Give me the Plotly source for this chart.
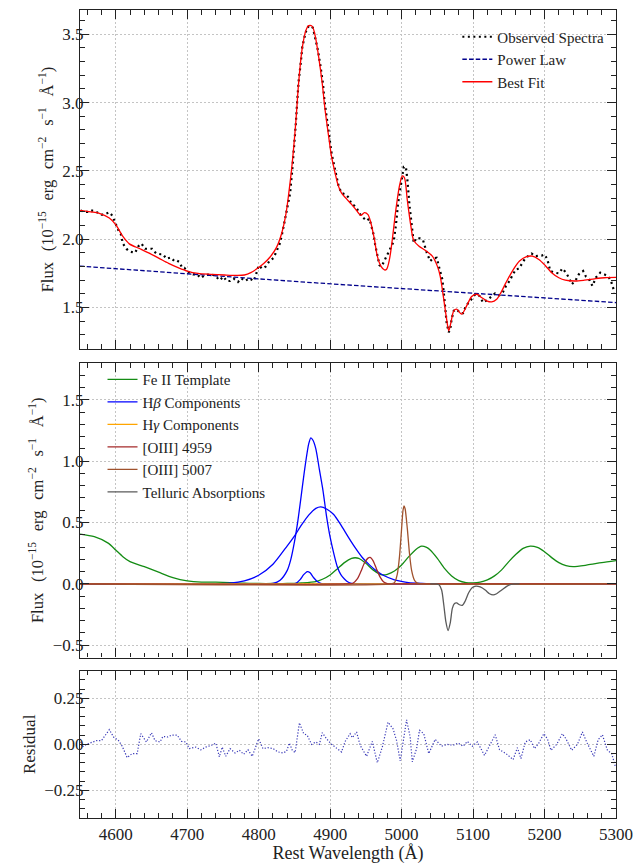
import plotly.graph_objects as go
from plotly.subplots import make_subplots

# ---------------- data ----------------
obs_wave = [4551, 4556, 4561, 4565, 4569, 4573, 4576, 4580, 4583, 4587, 4591, 4594, 4596, 4599, 4602, 4605,
            4607, 4610, 4615, 4618, 4621, 4624, 4627, 4632, 4636, 4641, 4645, 4648, 4651, 4654, 4657, 4663,
            4666, 4671, 4674, 4677, 4682, 4685, 4689, 4693, 4696, 4701, 4705, 4708, 4714, 4719, 4725, 4729,
            4733, 4739, 4745, 4751, 4755, 4760, 4765, 4771, 4776, 4781, 4787, 4793, 4796, 4800, 4805, 4810,
            4815, 4821, 4826, 4830, 4834, 4838, 4841, 4844, 4847, 4850, 4852, 4854, 4856, 4859, 4861, 4865,
            4868, 4871, 4874, 4876, 4879, 4883, 4886, 4890, 4892, 4896, 4899, 4902, 4906, 4909, 4912, 4916,
            4921, 4925, 4930, 4934, 4937, 4940, 4944, 4948, 4951, 4955, 4958, 4961, 4963, 4966, 4969, 4972,
            4976, 4980, 4984, 4989, 4992, 4995, 4999, 5003, 5006, 5008, 5011, 5013, 5015, 5017, 5021, 5026,
            5030, 5035, 5040, 5044, 5049, 5053, 5057, 5059, 5061, 5063, 5066, 5068, 5070, 5073, 5077, 5082,
            5086, 5090, 5096, 5103, 5109, 5114, 5121, 5127, 5131, 5137, 5142, 5146, 5151, 5155, 5160, 5164,
            5168, 5173, 5177, 5182, 5186, 5191, 5196, 5200, 5204, 5208, 5214, 5220, 5225, 5230, 5235, 5238,
            5243, 5248, 5254, 5258, 5263, 5267, 5272, 5278, 5283, 5289, 5293, 5298]
obs_flux = [2.21, 2.20, 2.20, 2.21, 2.21, 2.20, 2.19, 2.18, 2.18, 2.19, 2.197, 2.18, 2.163, 2.124, 2.08, 2.05,
            2.04, 1.968, 1.93, 1.915, 1.908, 1.905, 1.90, 1.95, 1.968, 1.93, 1.93, 1.93, 1.93, 1.91, 1.895, 1.89,
            1.89, 1.857, 1.86, 1.866, 1.84, 1.845, 1.833, 1.79, 1.79, 1.762, 1.75, 1.743, 1.743, 1.716, 1.738, 1.74,
            1.743, 1.735, 1.70, 1.726, 1.694, 1.694, 1.711, 1.687, 1.714, 1.694, 1.714, 1.694, 1.735, 1.808, 1.784, 1.80,
            1.84, 1.864, 1.925, 1.973, 2.07, 2.17, 2.25, 2.337, 2.507, 2.677, 2.847, 3.017, 3.16, 3.296, 3.405, 3.50,
            3.55, 3.563, 3.56, 3.546, 3.478, 3.381, 3.284, 3.138, 3.017, 2.871, 2.726, 2.629, 2.531, 2.459, 2.386, 2.337,
            2.33, 2.31, 2.26, 2.245, 2.228, 2.20, 2.167, 2.15, 2.135, 2.15, 2.095, 2.03, 1.96, 1.87, 1.81, 1.80,
            1.84, 1.888, 1.93, 1.985, 2.10, 2.26, 2.40, 2.53, 2.53, 2.44, 2.25, 2.155, 2.058, 1.973, 2.01, 2.005,
            1.993, 1.905, 1.84, 1.86, 1.864, 1.79, 1.706, 1.609, 1.488, 1.39, 1.318, 1.34, 1.415, 1.476, 1.488, 1.459,
            1.459, 1.512, 1.549, 1.597, 1.585, 1.536, 1.56, 1.585, 1.604, 1.59, 1.614, 1.658, 1.694, 1.735, 1.78, 1.784,
            1.816, 1.86, 1.876, 1.895, 1.876, 1.876, 1.88, 1.888, 1.852, 1.767, 1.755, 1.75, 1.786, 1.755, 1.71, 1.67,
            1.694, 1.743, 1.767, 1.726, 1.70, 1.658, 1.72, 1.755, 1.743, 1.73, 1.694, 1.609]

fit_wave = [4550, 4565, 4577, 4591, 4600, 4610, 4619, 4633, 4646, 4660, 4674, 4688, 4701, 4715, 4733, 4752,
            4770, 4780, 4789, 4798, 4807, 4816, 4825, 4832, 4838, 4842, 4847, 4852, 4856, 4861, 4866, 4870,
            4875, 4879, 4884, 4889, 4893, 4898, 4902, 4907, 4911, 4916, 4923, 4930, 4937, 4943, 4948, 4953,
            4957, 4962, 4966, 4971, 4976, 4979, 4983, 4987, 4992, 4997, 5001, 5004, 5008, 5013, 5017, 5024,
            5034, 5043, 5050, 5054, 5059, 5063, 5066, 5069, 5073, 5077, 5084, 5091, 5098, 5105, 5112, 5119,
            5126, 5133, 5139, 5146, 5155, 5165, 5174, 5183, 5192, 5201, 5210, 5220, 5229, 5243, 5256, 5270,
            5284, 5300]
fit_flux = [2.211, 2.20, 2.19, 2.155, 2.107, 2.02, 1.966, 1.932, 1.90, 1.862, 1.823, 1.79, 1.765, 1.75, 1.743, 1.738,
            1.735, 1.738, 1.755, 1.785, 1.822, 1.87, 1.94, 2.04, 2.18, 2.33, 2.56, 2.86, 3.15, 3.40, 3.527, 3.563,
            3.558, 3.49, 3.333, 3.138, 2.944, 2.75, 2.604, 2.483, 2.398, 2.337, 2.295, 2.255, 2.21, 2.175, 2.195, 2.18,
            2.119, 1.998, 1.876, 1.803, 1.775, 1.78, 1.852, 1.998, 2.216, 2.39, 2.464, 2.45, 2.285, 2.095, 1.99, 1.95,
            1.915, 1.876, 1.803, 1.73, 1.56, 1.415, 1.33, 1.39, 1.476, 1.488, 1.451, 1.512, 1.58, 1.597, 1.573, 1.549,
            1.541, 1.56, 1.609, 1.682, 1.767, 1.84, 1.871, 1.876, 1.852, 1.808, 1.755, 1.718, 1.70, 1.694, 1.70, 1.71,
            1.718, 1.72]

pl_wave = [4550, 4650, 4750, 4850, 4950, 5050, 5150, 5300]
pl_flux = [1.803, 1.764, 1.727, 1.691, 1.656, 1.623, 1.591, 1.536]

fe_wave = [4550, 4570, 4590, 4600, 4610, 4620, 4640, 4660, 4680, 4700, 4720, 4740, 4760, 4780, 4800, 4820,
           4840, 4860, 4880, 4890, 4900, 4910, 4920, 4930, 4935, 4940, 4950, 4960, 4970, 4975, 4980, 4990,
           5000, 5010, 5020, 5028, 5035, 5040, 5050, 5060, 5070, 5080, 5090, 5100, 5110, 5120, 5130, 5140,
           5150, 5160, 5170, 5180, 5190, 5200, 5210, 5220, 5230, 5240, 5260, 5280, 5300]
fe_flux = [0.405, 0.384, 0.33, 0.276, 0.222, 0.181, 0.14, 0.095, 0.051, 0.024, 0.014, 0.014, 0.011, 0.005, 0.003, 0.003,
           0.003, 0.008, 0.019, 0.04, 0.073, 0.122, 0.173, 0.208, 0.213, 0.208, 0.168, 0.114, 0.078, 0.073, 0.078, 0.105,
           0.154, 0.222, 0.281, 0.308, 0.297, 0.276, 0.208, 0.127, 0.065, 0.027, 0.011, 0.008, 0.014, 0.032, 0.065, 0.114,
           0.181, 0.241, 0.289, 0.308, 0.297, 0.262, 0.214, 0.173, 0.149, 0.14, 0.154, 0.173, 0.189]

hb_broad_wave = [4550, 4740, 4760, 4780, 4800, 4820, 4840, 4850, 4860, 4870, 4880, 4887, 4895, 4905, 4915, 4925,
                 4935, 4945, 4955, 4965, 4975, 4990, 5005, 5020, 5040, 5300]
hb_broad_flux = [0.0, 0.0, 0.005, 0.025, 0.07, 0.16, 0.31, 0.39, 0.48, 0.56, 0.615, 0.627, 0.61, 0.565, 0.48, 0.385,
                 0.295, 0.215, 0.155, 0.105, 0.068, 0.033, 0.015, 0.005, 0.0, 0.0]

hb_narrow_wave = [4550, 4810, 4820, 4830, 4840, 4845, 4850, 4855, 4860, 4865, 4870, 4873, 4876, 4880, 4885, 4890,
                  4895, 4900, 4905, 4910, 4915, 4920, 4925, 4930, 4940, 5300]
hb_narrow_flux = [0.0, 0.0, 0.004, 0.03, 0.11, 0.20, 0.34, 0.52, 0.74, 0.96, 1.14, 1.19, 1.17, 1.10, 0.93, 0.76,
                  0.55, 0.38, 0.25, 0.14, 0.075, 0.04, 0.015, 0.005, 0.0, 0.0]

hb_small_wave = [4550, 4845, 4852, 4858, 4863, 4868, 4872, 4877, 4882, 4888, 4895, 5300]
hb_small_flux = [0.0, 0.0, 0.005, 0.035, 0.075, 0.10, 0.09, 0.05, 0.02, 0.003, 0.0, 0.0]

hg_wave = [4550, 5300]
hg_flux = [0.0, 0.0]

o4959_wave = [4550, 4925, 4932, 4938, 4943, 4948, 4953, 4956, 4960, 4965, 4970, 4975, 4980, 4985, 5300]
o4959_flux = [0.0, 0.0, 0.005, 0.04, 0.10, 0.17, 0.21, 0.216, 0.19, 0.12, 0.055, 0.015, 0.002, 0.0, 0.0]

o5007_wave = [4550, 4985, 4990, 4994, 4997, 5000, 5002, 5003.5, 5005, 5008, 5011, 5014, 5018, 5022, 5027, 5300]
o5007_flux = [0.0, 0.0, 0.01, 0.08, 0.22, 0.45, 0.60, 0.635, 0.61, 0.45, 0.25, 0.11, 0.03, 0.006, 0.0, 0.0]

tell_wave = [5040, 5045, 5052, 5056, 5059, 5062, 5065, 5068, 5071, 5074, 5077, 5081, 5085, 5089, 5094, 5099,
             5104, 5110, 5117, 5123, 5128, 5133, 5140, 5147, 5153, 5160, 5165]
tell_flux = [0.0, 0.0, -0.005, -0.05, -0.17, -0.31, -0.38, -0.32, -0.20, -0.16, -0.155, -0.17, -0.175, -0.14, -0.07, -0.03,
             -0.018, -0.025, -0.05, -0.08, -0.09, -0.08, -0.05, -0.02, -0.003, 0.0, 0.0]

res_wave = [4550, 4553, 4559, 4566, 4573, 4580, 4591, 4597, 4604, 4609, 4616, 4623, 4630, 4635, 4643, 4650,
            4655, 4662, 4666, 4673, 4678, 4686, 4692, 4698, 4703, 4712, 4719, 4726, 4734, 4740, 4745, 4749,
            4754, 4760, 4767, 4773, 4779, 4785, 4791, 4800, 4806, 4813, 4820, 4827, 4834, 4839, 4843, 4847,
            4851, 4857, 4863, 4868, 4874, 4880, 4885, 4889, 4895, 4902, 4909, 4916, 4921, 4928, 4931, 4937,
            4942, 4951, 4959, 4966, 4973, 4981, 4988, 4993, 4998, 5002, 5007, 5012, 5015, 5021, 5025, 5031,
            5038, 5047, 5056, 5064, 5072, 5079, 5086, 5092, 5099, 5106, 5116, 5124, 5131, 5137, 5146, 5156,
            5162, 5167, 5173, 5180, 5186, 5192, 5199, 5204, 5209, 5217, 5225, 5230, 5238, 5246, 5253, 5260,
            5269, 5275, 5281, 5288, 5294, 5299]
res_val = [0.03, -0.015, 0.0, 0.01, 0.02, 0.02, 0.08, 0.04, 0.02, -0.01, -0.072, -0.05, -0.05, 0.058, 0.013, 0.063,
           0.02, 0.013, 0.043, 0.04, 0.05, 0.05, 0.016, 0.013, -0.023, -0.015, -0.03, -0.015, -0.005, 0.007, -0.068, -0.015,
           -0.065, -0.023, -0.047, -0.032, -0.054, -0.029, -0.065, 0.03, -0.023, -0.018, -0.023, -0.041, -0.047, -0.038, 0.007, -0.032,
           -0.045, 0.117, 0.058, 0.049, 0.0, 0.013, 0.0, 0.063, 0.03, 0.0, -0.023, -0.041, 0.016, 0.058, 0.036, 0.067,
           -0.005, -0.065, 0.016, -0.1, -0.015, 0.12, 0.085, 0.02, -0.09, 0.02, 0.133, 0.04, -0.095, -0.023, 0.076, 0.058,
           -0.05, 0.027, -0.01, 0.0, -0.005, 0.007, -0.01, 0.016, -0.01, 0.013, -0.06, 0.0, 0.052, -0.029, -0.05, -0.083,
           -0.018, -0.077, 0.013, 0.025, -0.023, 0.007, 0.058, 0.03, -0.032, 0.0, 0.058, 0.03, -0.032, 0.0, 0.067, 0.004,
           -0.065, 0.025, 0.052, -0.032, -0.05, -0.12]

x_ticks = [4600, 4700, 4800, 4900, 5000, 5100, 5200, 5300]
SEP = " \u2009\u2009"
flux_title = ("Flux" + SEP + "(10<sup>−15</sup>" + SEP + "erg" + SEP + "cm<sup>−2</sup>" + SEP +
              "s<sup>−1</sup>" + SEP + "Å<sup>−1</sup>)")

# ---------------- figure ----------------
FONT = "Liberation Serif"
INK = "#222"
fig = make_subplots(rows=3, cols=1, shared_xaxes=True)

fig.add_trace(go.Scatter(x=obs_wave, y=obs_flux, mode="lines", name="Observed Spectra",
                         line=dict(color="black", width=2.2, dash="2px,3.5px"), legend="legend"), 1, 1)
fig.add_trace(go.Scatter(x=pl_wave, y=pl_flux, mode="lines", name="Power Law",
                         line=dict(color="#00008B", width=1.3, dash="4.5px,2.2px"), legend="legend"), 1, 1)
fig.add_trace(go.Scatter(x=fit_wave, y=fit_flux, mode="lines", name="Best Fit", line_shape="spline",
                         line=dict(color="red", width=1.3, smoothing=0.8), legend="legend"), 1, 1)

comp = [
    (fe_wave, fe_flux, "Fe II Template", "#148C14", True),
    (hb_broad_wave, hb_broad_flux, "H<i>β</i> Components", "#0000FF", True),
    (hb_narrow_wave, hb_narrow_flux, "H<i>β</i> Components", "#0000FF", False),
    (hb_small_wave, hb_small_flux, "H<i>β</i> Components", "#0000FF", False),
    (hg_wave, hg_flux, "H<i>γ</i> Components", "#FFA500", True),
    (o4959_wave, o4959_flux, "[OIII] 4959", "#A52A2A", True),
    (o5007_wave, o5007_flux, "[OIII] 5007", "#A0522D", True),
    (tell_wave, tell_flux, "Telluric Absorptions", "#5A5A5A", True),
]
for wv, fl, nm, col, show in comp:
    fig.add_trace(go.Scatter(x=wv, y=fl, mode="lines", name=nm, showlegend=show, legendgroup=nm,
                             line_shape="spline", line=dict(color=col, width=1.3, smoothing=0.7),
                             legend="legend2"), 2, 1)

fig.add_trace(go.Scatter(x=res_wave, y=res_val, mode="lines", showlegend=False,
                         line=dict(color="rgba(20,20,170,0.85)", width=1.2, dash="1.2px,1.8px")), 3, 1)

axis_common = dict(showline=True, linecolor=INK, linewidth=1.2, mirror="allticks",
                   ticks="inside", ticklen=9, tickwidth=1.3, tickcolor=INK,
                   showgrid=True, gridcolor="#c4c4c4", griddash="2px,2px", gridwidth=0.8,
                   zeroline=False,
                   tickfont=dict(family=FONT, size=17, color=INK),
                   minor=dict(ticks="inside", ticklen=4.5, tickwidth=1, tickcolor=INK, showgrid=False))

for i in (1, 2, 3):
    fig.update_xaxes(range=[4550, 5300], tickvals=x_ticks, minor_dtick=20, minor_tick0=4540,
                     showticklabels=(i == 3), row=i, col=1, **axis_common)

fig.update_xaxes(title=dict(text="Rest Wavelength (Å)", font=dict(family=FONT, size=18, color=INK), standoff=2),
                 row=3, col=1)

ytitle_font = dict(family=FONT, size=16.5, color=INK)
fig.update_yaxes(range=[1.196, 3.678], dtick=0.5, tick0=0, minor_dtick=0.1, tickformat=".1f",
                 ticklabelstandoff=-8,
                 title=dict(text=flux_title, font=ytitle_font, standoff=4),
                 row=1, col=1, **axis_common)
fig.update_yaxes(range=[-0.6, 1.8], dtick=0.5, tick0=0, minor_dtick=0.1, tickformat=".1f",
                 ticklabelstandoff=-8,
                 title=dict(text=flux_title, font=ytitle_font, standoff=4),
                 row=2, col=1, **axis_common)
fig.update_yaxes(range=[-0.4, 0.4], dtick=0.25, tick0=0, minor_dtick=0.05, tickformat=".2f",
                 ticklabelstandoff=-8,
                 title=dict(text="Residual", font=dict(family=FONT, size=17, color=INK), standoff=4),
                 row=3, col=1, **axis_common)

fig.update_layout(
    width=642, height=867,
    margin=dict(l=80, r=17, t=9, b=46),
    paper_bgcolor="white", plot_bgcolor="white",
    font=dict(family=FONT, size=15, color=INK),
    yaxis=dict(domain=[0.5804, 1.0]),
    yaxis2=dict(domain=[0.1986, 0.5632]),
    yaxis3=dict(domain=[0.0, 0.1823]),
    legend=dict(x=0.704, y=0.987, xanchor="left", yanchor="top", bgcolor="rgba(0,0,0,0)",
                font=dict(family=FONT, size=15, color=INK), tracegroupgap=0),
    legend2=dict(x=0.042, y=0.563, xanchor="left", yanchor="top", bgcolor="rgba(0,0,0,0)",
                 font=dict(family=FONT, size=15, color=INK), tracegroupgap=0),
)

fig.write_html("out.html", config={"displayModeBar": False},
               post_script="document.body.style.margin='0px';")
